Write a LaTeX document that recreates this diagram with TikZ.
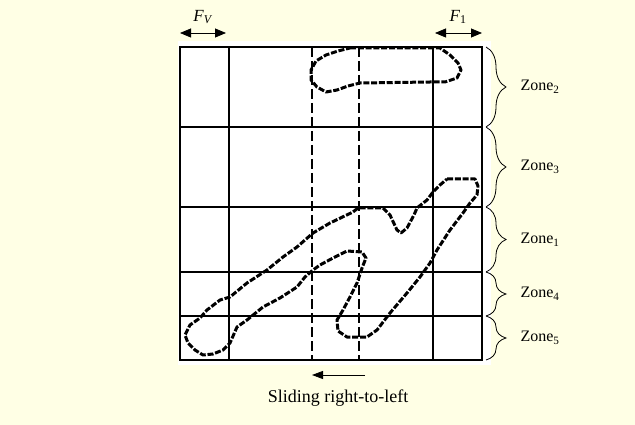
\documentclass[tikz,border=0pt]{standalone}
\usepackage{fontspec}
\setmainfont{Liberation Serif}
\usepackage{tikz}
\usetikzlibrary{arrows.meta, decorations.pathreplacing, positioning}

\definecolor{paper}{RGB}{255,255,229}

\tikzset{
  gridline/.style={line width=1.8pt},
  slideline/.style={line width=1.8pt, dash pattern=on 10pt off 4pt},
  trace/.style={line width=3pt, dash pattern=on 6pt off 1.8pt, line join=round},
  zonebrace/.style={decorate, decoration={brace, amplitude=20pt, aspect=0.5}, line width=0.8pt},
  zonelabel/.style={right, font=\fontsize{16}{18}\selectfont},
  forcearrow/.style={line width=0.8pt, {Triangle[length=11pt,width=9pt]}-{Triangle[length=11pt,width=9pt]}}
}

\begin{document}
\begin{tikzpicture}[x=1pt, y=-1pt, >=Stealth]
  % page and panel
  \useasboundingbox[fill=paper] (0,0) rectangle (635,425);
  \fill[white] (178,41) rectangle (491,365);
  % grid
  \draw[line width=2.6pt] (180,47) rectangle (482,360);
  \foreach \gx in {229,433}
    \draw[gridline] (\gx,47) -- (\gx,360);
  \foreach \gy in {127,207,272,316}
    \draw[gridline] (180,\gy) -- (482,\gy);
  % sliding window
  \coordinate (wlt) at (312,47);
  \coordinate (wlb) at (312,360);
  \coordinate (wrt) at (359,47);
  \coordinate (wrb) at (359,360);
  \draw[slideline] (wlt) -- (wlb);
  \draw[slideline] (wrt) -- (wrb);
  % upper loop (Zone 2)
  \draw[trace] plot coordinates {(350,48) (440,48) (450,55) (458,63) (461,70)
    (457,78) (445,82) (430,82) (360,83) (348,86) (337,90) (326,92) (317,87)
    (311,80) (311,70) (316,61) (326,55) (338,51) (350,48)};
  % main stroke
  \draw[trace] plot coordinates {(447,179) (475,179) (478,186) (477,195) (470,203)
    (463,213) (450,230) (437,250) (430,263) (420,277) (407,293) (390,313)
    (377,330) (367,337) (347,337) (338,331) (337,320) (343,310) (350,297)
    (357,283) (362,268) (366,258) (362,252) (347,251) (333,258) (320,265)
    (313,270) (305,277) (297,287) (280,298) (263,307) (247,320) (237,327)
    (230,343) (223,350) (213,354) (203,355) (195,350) (188,343) (185,335)
    (190,325) (200,318) (207,310) (220,300) (230,297) (247,283) (267,270)
    (283,257) (297,247) (313,233) (330,223) (353,212) (358,208) (383,208)
    (390,215) (397,230) (401,233) (407,228) (414,215) (417,208) (427,200)
    (433,192) (440,185) (447,179)};
  % zone braces
  \foreach \ya/\yb/\zn in {47/127/2, 127/207/3, 207/272/1, 272/316/4, 316/360/5}{
    \draw[zonebrace] (486,\ya) -- (486,\yb);
    \node[zonelabel] (zone\zn) at (517,{(\ya+\yb)/2}) {Zone\textsubscript{\zn}};
  }
  % force arrows
  \coordinate (fvl) at (180,33);
  \coordinate (fvr) at (226,33);
  \coordinate (fol) at (435,33);
  \coordinate (for) at (482,33);
  \draw[forcearrow] (fvl) -- (fvr);
  \draw[forcearrow] (fol) -- (for);
  \node[font=\fontsize{17}{19}\selectfont] (fv) at (203,17) {\textit{F}\textsubscript{\textit{V}}};
  \node[font=\fontsize{17}{19}\selectfont] (fone) at (458,17) {\textit{F}\textsubscript{1}};
  % sliding direction
  \coordinate (sr) at (365,375);
  \coordinate (sl) at (312,375);
  \draw[line width=0.8pt, -{Triangle[length=11pt,width=8pt]}] (sr) -- (sl);
  \node[font=\fontsize{18}{20}\selectfont] (slide) at (338,398) {Sliding right-to-left};
\end{tikzpicture}
\end{document}
